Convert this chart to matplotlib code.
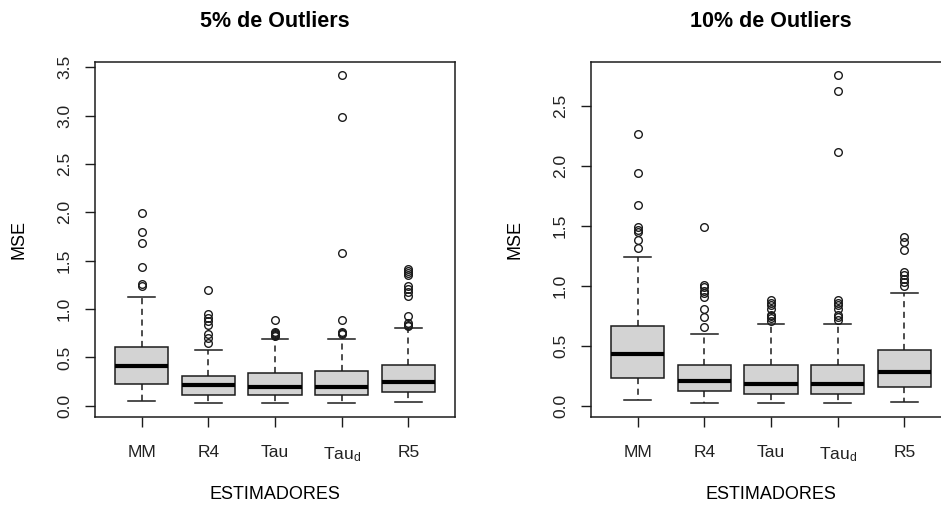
import matplotlib
matplotlib.use("Agg")
import matplotlib.pyplot as plt

plt.rcParams['font.family'] = ['Liberation Sans', 'DejaVu Sans']
plt.rcParams['mathtext.fontset'] = 'custom'
plt.rcParams['mathtext.rm'] = 'Liberation Sans'
plt.rcParams['mathtext.default'] = 'rm'

estimadores = ['MM', 'R4', 'Tau', r'$Tau_d$', 'R5']

# 5% de outliers
q1_5 = [0.225, 0.107, 0.107, 0.107, 0.142]
med_5 = [0.415, 0.218, 0.19, 0.19, 0.242]
q3_5 = [0.605, 0.308, 0.343, 0.357, 0.419]
wlo_5 = [0.052, 0.024, 0.024, 0.024, 0.038]
whi_5 = [1.13, 0.581, 0.692, 0.692, 0.80]
out_5 = [
    [1.24, 1.26, 1.44, 1.68, 1.80, 1.99],
    [0.65, 0.70, 0.74, 0.84, 0.88, 0.91, 0.95, 1.2],
    [0.72, 0.73, 0.74, 0.75, 0.76, 0.89],
    [0.74, 0.75, 0.76, 0.89, 1.58, 2.99, 3.42],
    [0.82, 0.84, 0.86, 0.93, 1.14, 1.18, 1.21, 1.24, 1.35, 1.37, 1.39, 1.41],
]

# 10% de outliers
q1_10 = [0.232, 0.126, 0.098, 0.098, 0.159]
med_10 = [0.434, 0.21, 0.185, 0.185, 0.28]
q3_10 = [0.665, 0.338, 0.338, 0.338, 0.467]
wlo_10 = [0.05, 0.02, 0.02, 0.02, 0.031]
whi_10 = [1.242, 0.596, 0.685, 0.685, 0.945]
out_10 = [
    [1.32, 1.38, 1.45, 1.47, 1.49, 1.68, 1.94, 2.27],
    [0.66, 0.74, 0.81, 0.91, 0.94, 0.96, 0.99, 1.01, 1.49],
    [0.71, 0.73, 0.75, 0.76, 0.81, 0.84, 0.86, 0.88],
    [0.72, 0.74, 0.76, 0.81, 0.84, 0.86, 0.88, 2.12, 2.63, 2.76],
    [1.0, 1.03, 1.06, 1.09, 1.12, 1.30, 1.37, 1.41],
]

ink = '#1c1c1c'


def make_stats(q1, med, q3, wlo, whi, out):
    return [dict(q1=a, med=b, q3=c, whislo=d, whishi=e, fliers=f)
            for a, b, c, d, e, f in zip(q1, med, q3, wlo, whi, out)]


def draw_panel(ax, stats, title, ymax):
    ax.bxp(stats, positions=range(1, 6), widths=0.8, capwidths=0.4,
           patch_artist=True,
           boxprops=dict(facecolor='#d3d3d3', edgecolor=ink, linewidth=1.1),
           medianprops=dict(color='black', linewidth=3),
           whiskerprops=dict(color=ink, linewidth=1.1, linestyle=(0, (4, 3))),
           capprops=dict(color=ink, linewidth=1.1),
           flierprops=dict(marker='o', markersize=5.5, markerfacecolor='none',
                           markeredgecolor=ink, markeredgewidth=1.0))
    # R style range: 4% padding around the data
    hi = max(max(s['fliers']) for s in stats)
    lo = min(s['whislo'] for s in stats)
    pad = (hi - lo) * 0.04
    ax.set_ylim(lo - pad, hi + pad)
    ax.set_xlim(0.3, 5.7)
    yt = [i * 0.5 for i in range(int(ymax / 0.5) + 1)]
    ax.set_yticks(yt)
    ax.set_yticklabels(['%.1f' % v for v in yt], rotation=90, va='center')
    ax.set_xticks(range(1, 6))
    ax.set_xticklabels(estimadores)
    ax.tick_params(direction='out', length=7, width=1, colors=ink,
                   labelsize=12.5, labelcolor='#222222')
    ax.tick_params(axis='y', pad=9.5)
    ax.tick_params(axis='x', pad=13.5)
    for sp in ax.spines.values():
        sp.set_color(ink)
        sp.set_linewidth(1.1)
    ax.set_title(title, fontsize=15.5, fontweight='bold', pad=25)
    ax.set_xlabel('ESTIMADORES', fontsize=13, labelpad=16)
    ax.set_ylabel('MSE', fontsize=13, labelpad=21)


fig = plt.figure(figsize=(9.41, 5.08), dpi=100)
ax1 = fig.add_axes([0.101, 0.18, 0.3826, 0.698])
ax2 = fig.add_axes([0.628, 0.18, 0.3826, 0.698])

draw_panel(ax1, make_stats(q1_5, med_5, q3_5, wlo_5, whi_5, out_5),
           '5% de Outliers', 3.5)
draw_panel(ax2, make_stats(q1_10, med_10, q3_10, wlo_10, whi_10, out_10),
           '10% de Outliers', 2.5)

fig.savefig('out.png', dpi=100)
